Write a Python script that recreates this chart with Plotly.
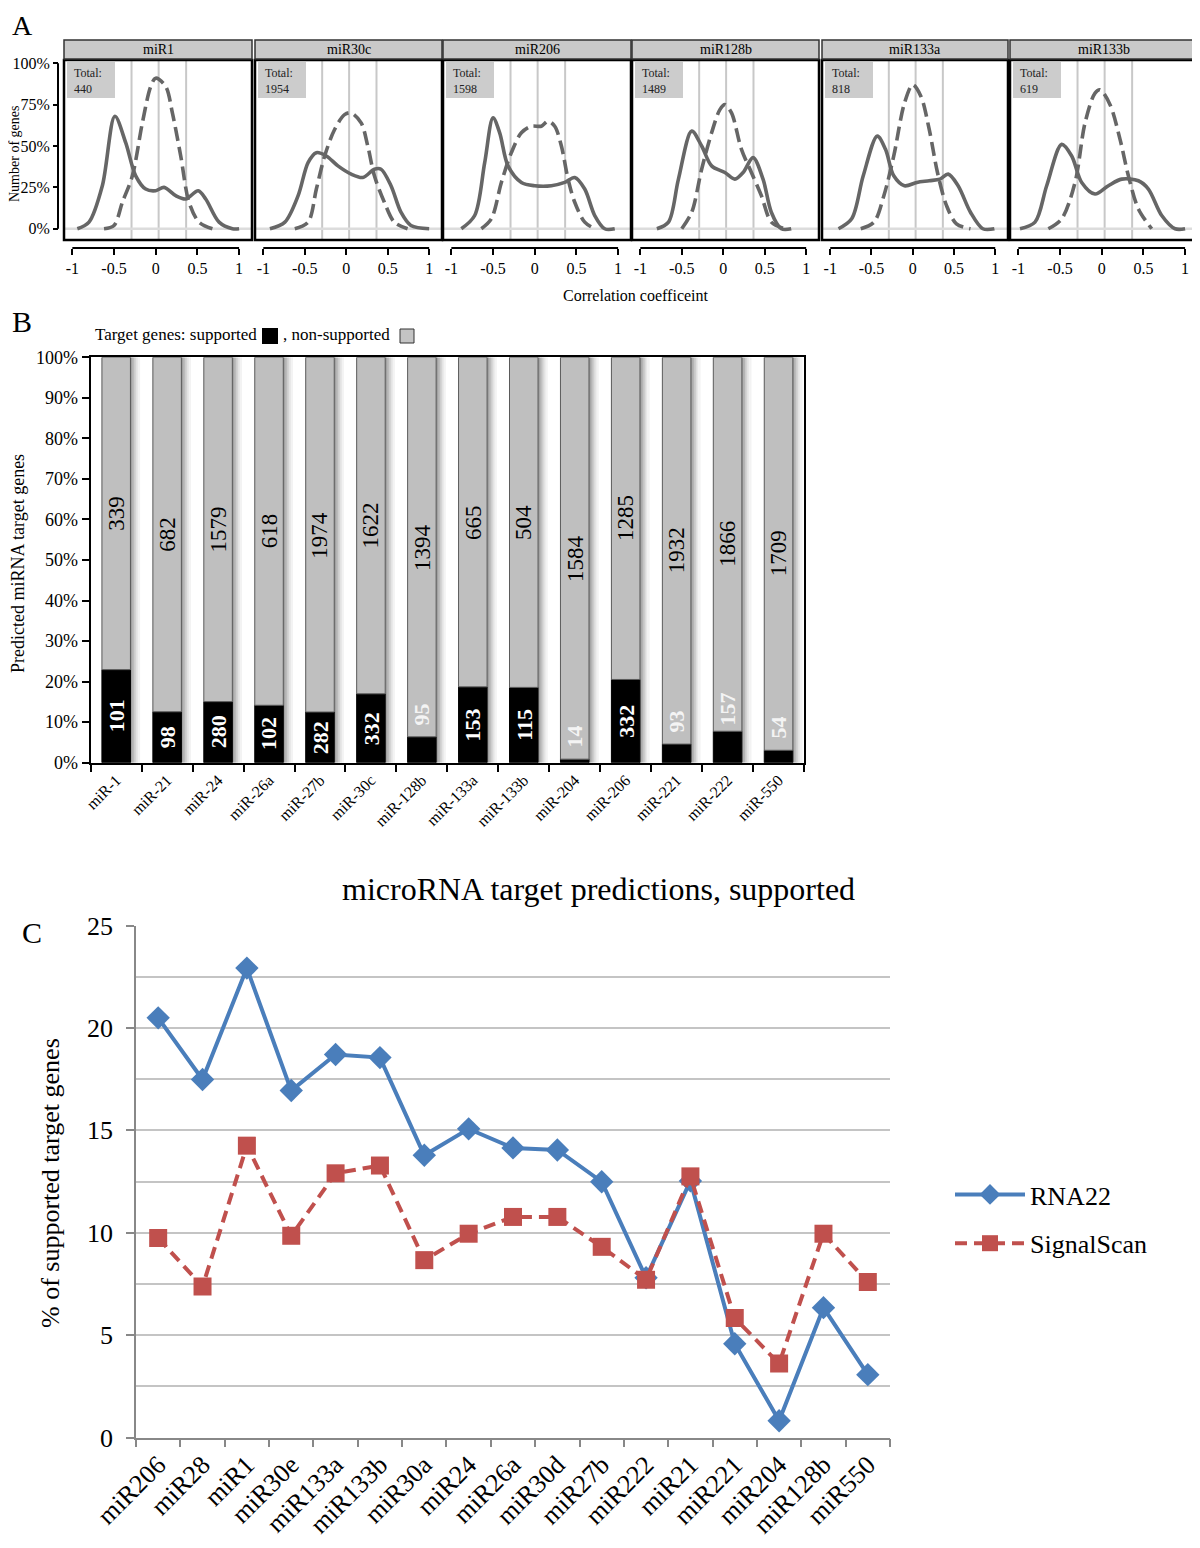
import plotly.graph_objects as go

# The page body adds an 8px margin, so the figure is drawn from (8, 8) on screen.
OFF = 8
W, H = 1200 - OFF, 1548 - OFF
FONT = "Liberation Serif"


def py(p):
    return 1 - (p - OFF) / H


def px(p):
    return (p - OFF) / W


# ---------------- Panel A data ----------------
A_names = ["miR1", "miR30c", "miR206", "miR128b", "miR133a", "miR133b"]
A_totals = [440, 1954, 1598, 1489, 818, 619]
A_xticks = [-1, -0.5, 0, 0.5, 1]
A_xticktext = ["-1", "-0.5", "0", "0.5", "1"]
A_yticks = [0, 25, 50, 75, 100]
A_yticktext = ["0%", "25%", "50%", "75%", "100%"]
A_grid_x = [-0.29, 0.035, 0.365]

miR1_solid_x = [-0.94, -0.8, -0.64, -0.49, -0.36, -0.24, -0.12, 0, 0.1, 0.24, 0.36, 0.51, 0.6, 0.76, 0.92, 1.0]
miR1_solid_y = [0, 4, 26, 68, 52, 32, 24, 23, 25, 20, 18, 23, 18, 4, 0, 0]
miR1_dash_x = [-0.62, -0.5, -0.4, -0.28, -0.16, -0.06, 0, 0.12, 0.2, 0.3, 0.4, 0.52, 0.68]
miR1_dash_y = [0, 2, 16, 32, 64, 86, 91, 86, 70, 44, 16, 4, 0]

miR30c_solid_x = [-0.92, -0.74, -0.58, -0.46, -0.36, -0.24, -0.1, 0.06, 0.2, 0.34, 0.42, 0.54, 0.66, 0.78, 1.0]
miR30c_solid_y = [0, 4, 20, 40, 46, 44, 38, 33, 31, 36, 36, 26, 10, 2, 0]
miR30c_dash_x = [-0.62, -0.46, -0.36, -0.26, -0.14, -0.02, 0.06, 0.18, 0.26, 0.34, 0.46, 0.58, 0.74]
miR30c_dash_y = [0, 4, 24, 44, 60, 69, 70, 64, 50, 32, 16, 4, 0]

miR206_solid_x = [-0.88, -0.72, -0.6, -0.5, -0.42, -0.32, -0.16, 0, 0.2, 0.36, 0.48, 0.6, 0.72, 0.84, 0.96]
miR206_solid_y = [0, 8, 40, 67, 58, 38, 28, 26, 26, 28, 31, 24, 8, 0, 0]
miR206_dash_x = [-0.64, -0.52, -0.4, -0.28, -0.16, -0.04, 0.08, 0.16, 0.24, 0.32, 0.4, 0.48, 0.6, 0.72]
miR206_dash_y = [0, 6, 28, 46, 58, 62, 62, 65, 62, 50, 30, 16, 4, 0]

miR128b_solid_x = [-0.8, -0.66, -0.54, -0.38, -0.26, -0.14, 0.02, 0.14, 0.24, 0.36, 0.48, 0.58, 0.7, 0.82]
miR128b_solid_y = [0, 4, 30, 59, 50, 38, 34, 30, 34, 43, 30, 10, 0, 0]
miR128b_dash_x = [-0.5, -0.38, -0.26, -0.14, -0.04, 0.02, 0.1, 0.22, 0.34, 0.46, 0.58, 0.74]
miR128b_dash_y = [0, 10, 36, 58, 72, 75, 70, 48, 34, 20, 4, 0]

miR133a_solid_x = [-0.9, -0.74, -0.6, -0.43, -0.33, -0.23, -0.1, 0.05, 0.2, 0.33, 0.43, 0.55, 0.7, 0.85, 0.99]
miR133a_solid_y = [0, 6, 32, 56, 48, 32, 26, 28, 29, 30, 33, 26, 10, 0, 0]
miR133a_dash_x = [-0.63, -0.47, -0.35, -0.23, -0.1, 0, 0.1, 0.2, 0.3, 0.41, 0.53, 0.7]
miR133a_dash_y = [0, 4, 20, 44, 76, 87, 80, 60, 34, 14, 3, 0]

miR133b_solid_x = [-0.98, -0.8, -0.66, -0.48, -0.36, -0.24, -0.08, 0.08, 0.24, 0.44, 0.56, 0.72, 0.88, 1.0]
miR133b_solid_y = [0, 4, 26, 51, 44, 28, 21, 26, 30, 29, 24, 8, 0, 0]
miR133b_dash_x = [-0.64, -0.48, -0.32, -0.2, -0.08, -0.02, 0.1, 0.22, 0.32, 0.44, 0.6]
miR133b_dash_y = [0, 6, 28, 64, 82, 84, 75, 54, 32, 12, 0]

A_solid = [(miR1_solid_x, miR1_solid_y), (miR30c_solid_x, miR30c_solid_y),
           (miR206_solid_x, miR206_solid_y), (miR128b_solid_x, miR128b_solid_y),
           (miR133a_solid_x, miR133a_solid_y), (miR133b_solid_x, miR133b_solid_y)]
A_dash = [(miR1_dash_x, miR1_dash_y), (miR30c_dash_x, miR30c_dash_y),
          (miR206_dash_x, miR206_dash_y), (miR128b_dash_x, miR128b_dash_y),
          (miR133a_dash_x, miR133a_dash_y), (miR133b_dash_x, miR133b_dash_y)]

# ---------------- Panel B data ----------------
B_names = ["miR-1", "miR-21", "miR-24", "miR-26a", "miR-27b", "miR-30c", "miR-128b",
           "miR-133a", "miR-133b", "miR-204", "miR-206", "miR-221", "miR-222", "miR-550"]
B_supported = [101, 98, 280, 102, 282, 332, 95, 153, 115, 14, 332, 93, 157, 54]
B_nonsupported = [339, 682, 1579, 618, 1974, 1622, 1394, 665, 504, 1584, 1285, 1932, 1866, 1709]
B_yticks = [0, 10, 20, 30, 40, 50, 60, 70, 80, 90, 100]

# ---------------- Panel C data ----------------
C_names = ["miR206", "miR28", "miR1", "miR30e", "miR133a", "miR133b", "miR30a", "miR24",
           "miR26a", "miR30d", "miR27b", "miR222", "miR21", "miR221", "miR204", "miR128b", "miR550"]
C_rna22 = [20.49, 17.48, 22.92, 16.94, 18.70, 18.55, 13.78, 15.07, 14.14, 14.04, 12.49,
           7.80, 12.53, 4.58, 0.82, 6.34, 3.07]
C_signalscan = [9.74, 7.37, 14.25, 9.85, 12.90, 13.28, 8.66, 9.95, 10.77, 10.77, 9.31,
                7.70, 12.75, 5.83, 3.61, 9.95, 7.59]
C_yticks = [0, 5, 10, 15, 20, 25]

# ---------------- figure ----------------
fig = go.Figure()
layout = dict(
    width=W, height=H, margin=dict(l=0, r=0, t=0, b=0, autoexpand=False),
    paper_bgcolor="white", plot_bgcolor="white",
    font=dict(family=FONT, color="black"),
    barmode="overlay", showlegend=True,
)
shapes = []
annotations = []


def label(text, x, y, size, angle=0, xanchor="center", color="black", align="center"):
    return dict(text=text, xref="paper", yref="paper", x=px(x), y=py(y), xanchor=xanchor,
                yanchor="middle", textangle=angle, showarrow=False, align=align,
                font=dict(size=size, family=FONT, color=color))


A_box_px = [(64, 252), (255, 442), (443, 631), (632, 819), (822, 1008), (1010, 1198)]
A_top, A_bot = 60, 240
A_strip_top = 40
A_axis_y = 248
A_color = "#666666"

for i in range(6):
    sfx = "" if i == 0 else str(i + 1)
    xa, ya = "x" + sfx, "y" + sfx
    x0p, x1p = A_box_px[i]
    sx, sy = A_solid[i]
    dx, dy = A_dash[i]
    fig.add_trace(go.Scatter(x=sx, y=sy, xaxis=xa, yaxis=ya, mode="lines",
                             line=dict(color=A_color, width=3.6, shape="spline", smoothing=0.9),
                             showlegend=False, hoverinfo="skip"))
    fig.add_trace(go.Scatter(x=dx, y=dy, xaxis=xa, yaxis=ya, mode="lines",
                             line=dict(color=A_color, width=3.6, shape="spline", smoothing=0.9,
                                       dash="14px,6px"),
                             showlegend=False, hoverinfo="skip"))
    layout["xaxis" + sfx] = dict(
        domain=[px(x0p), px(x1p)], range=[-1.1, 1.155], anchor="free", position=py(A_axis_y),
        showgrid=False, zeroline=False, showline=False, ticks="outside", ticklen=6,
        tickwidth=2, tickcolor="black", tickvals=A_xticks, ticktext=A_xticktext,
        automargin=False,
        tickfont=dict(size=16, family=FONT, color="black"), fixedrange=True)
    ydict = dict(domain=[py(A_bot), py(A_top)], range=[-6.8, 102], showgrid=False,
                 zeroline=False, showline=False, fixedrange=True, automargin=False)
    if i == 0:
        ydict.update(anchor="free", position=px(58), side="left", ticks="outside", ticklen=5,
                     tickwidth=2, tickcolor="black", tickvals=A_yticks, ticktext=A_yticktext,
                     tickfont=dict(size=16, family=FONT, color="black"))
    else:
        ydict.update(anchor=xa, visible=False)
    layout["yaxis" + sfx] = ydict

    for gx in A_grid_x:
        shapes.append(dict(type="line", xref=xa, yref=ya + " domain", x0=gx, x1=gx, y0=0, y1=1,
                           line=dict(color="#c8c8c8", width=2), layer="below"))
    shapes.append(dict(type="line", xref=xa + " domain", yref=ya, x0=0, x1=1, y0=0, y1=0,
                       line=dict(color="#dcdcdc", width=2.5), layer="below"))
    shapes.append(dict(type="rect", xref="paper", yref="paper", x0=px(x0p), x1=px(x1p),
                       y0=py(A_bot), y1=py(A_top), line=dict(color="black", width=2.5),
                       fillcolor="rgba(0,0,0,0)", layer="above"))
    shapes.append(dict(type="rect", xref="paper", yref="paper", x0=px(x0p), x1=px(x1p),
                       y0=py(A_top - 1), y1=py(A_strip_top), line=dict(color="#333333", width=1.5),
                       fillcolor="#c9c9c9", layer="above"))
    annotations.append(label(A_names[i], (x0p + x1p) / 2, (A_strip_top + A_top) / 2 - 0.5, 14))
    shapes.append(dict(type="rect", xref="paper", yref="paper", x0=px(x0p + 3), x1=px(x0p + 51),
                       y0=py(98), y1=py(62), line=dict(width=0), fillcolor="#cccccc", layer="above"))
    annotations.append(dict(text="Total:<br>%d" % A_totals[i], xref="paper", yref="paper",
                            x=px(x0p + 8), y=py(64), xanchor="left", yanchor="top", align="left",
                            showarrow=False, font=dict(size=12, family=FONT, color="#222222")))
    shapes.append(dict(type="line", xref=xa, yref="paper", x0=-1, x1=1, y0=py(A_axis_y),
                       y1=py(A_axis_y), line=dict(color="black", width=2)))

shapes.append(dict(type="line", xref="paper", yref="y", x0=px(58), x1=px(58), y0=0, y1=100,
                   line=dict(color="black", width=2)))

annotations += [
    label("A", 22, 25, 28),
    label("Correlation coefficeint", 636, 295, 16),
    label("Number of genes", 15, 154, 14, angle=-90),
]

# ---------------- Panel B ----------------
B_total = [s + n for s, n in zip(B_supported, B_nonsupported)]
B_sup_pct = [100.0 * s / t for s, t in zip(B_supported, B_total)]
B_non_pct = [100.0 - p for p in B_sup_pct]

shadow_colors = ["#9a9a9a", "#b4b4b4", "#cdcdcd", "#e3e3e3", "#f3f3f3"]
for k, c in enumerate(shadow_colors):
    fig.add_trace(go.Bar(x=B_names, y=[100] * len(B_names), base=0, offset=0.28 + k * 0.038,
                         width=0.038, marker=dict(color=c, line=dict(width=0)),
                         xaxis="x7", yaxis="y7", showlegend=False, hoverinfo="skip"))
fig.add_trace(go.Bar(x=B_names, y=B_sup_pct, base=0, offset=-0.28, width=0.56,
                     marker=dict(color="black", line=dict(color="black", width=1)),
                     xaxis="x7", yaxis="y7", showlegend=False, hoverinfo="skip"))
fig.add_trace(go.Bar(x=B_names, y=B_non_pct, base=B_sup_pct, offset=-0.28, width=0.56,
                     marker=dict(color="#bfbfbf", line=dict(color="#5a5a5a", width=1)),
                     xaxis="x7", yaxis="y7", showlegend=False, hoverinfo="skip"))

layout["xaxis7"] = dict(domain=[px(90.7), px(804)], anchor="y7", type="category",
                        range=[-0.5, len(B_names) - 0.5], tickson="boundaries", ticks="outside",
                        ticklen=7, tickwidth=1.5, tickcolor="black", showline=True, linewidth=2,
                        linecolor="black", mirror=True, tickangle=-45, showgrid=False,
                        automargin=False,
                        tickfont=dict(size=16, family=FONT, color="black"), fixedrange=True)
layout["yaxis7"] = dict(domain=[py(762.7), py(357.3)], anchor="x7", range=[0, 100],
                        tickvals=B_yticks, ticktext=["%d%%" % v for v in B_yticks],
                        ticks="outside", ticklen=7, tickwidth=1.5, tickcolor="black",
                        showline=True, linewidth=2, linecolor="black", mirror=True,
                        showgrid=False, zeroline=False, automargin=False,
                        tickfont=dict(size=18, family=FONT, color="black"), fixedrange=True)

for name, s, sp, n in zip(B_names, B_supported, B_sup_pct, B_nonsupported):
    annotations.append(dict(text=str(n), xref="x7", yref="y7", x=name, y=sp + (100 - sp) / 2,
                            xanchor="center", yanchor="middle", textangle=-90, showarrow=False,
                            font=dict(size=23, family=FONT, color="black")))
    if sp >= 10:
        annotations.append(dict(text="<b>%d</b>" % s, xref="x7", yref="y7", x=name, y=sp / 2,
                                xanchor="center", yanchor="middle", textangle=-90,
                                showarrow=False, font=dict(size=22, family=FONT, color="white")))
    else:
        annotations.append(dict(text="<b>%d</b>" % s, xref="x7", yref="y7", x=name, y=sp + 5.5,
                                xanchor="center", yanchor="middle", textangle=-90,
                                showarrow=False, font=dict(size=22, family=FONT, color="#f4f4f4")))

annotations += [
    label("B", 22, 321, 30),
    label("Target genes: supported", 259, 335, 17, xanchor="right"),
    label(", non-supported", 281, 335, 17, xanchor="left"),
    label("Predicted miRNA target genes", 18, 564, 18, angle=-90),
]
shapes.append(dict(type="rect", xref="paper", yref="paper", x0=px(262), x1=px(278),
                   y0=py(344), y1=py(328), fillcolor="black", line=dict(width=0)))
shapes.append(dict(type="rect", xref="paper", yref="paper", x0=px(400), x1=px(414),
                   y0=py(343), y1=py(329), fillcolor="#c4c4c4", line=dict(color="#333", width=1)))

# ---------------- Panel C ----------------
fig.add_trace(go.Scatter(x=C_names, y=C_rna22, name="RNA22", mode="lines+markers",
                         line=dict(color="#4A7EBB", width=4),
                         marker=dict(symbol="diamond", size=18, color="#4A7EBB"),
                         xaxis="x8", yaxis="y8", legendgroup="a", hoverinfo="skip"))
fig.add_trace(go.Scatter(x=C_names, y=C_signalscan, name="SignalScan", mode="lines+markers",
                         line=dict(color="#C0504D", width=4, dash="12px,7px"),
                         marker=dict(symbol="square", size=18, color="#C0504D"),
                         xaxis="x8", yaxis="y8", legendgroup="b", hoverinfo="skip"))

layout["xaxis8"] = dict(domain=[px(136), px(890)], anchor="y8", type="category",
                        range=[-0.5, len(C_names) - 0.5], tickson="boundaries", ticks="outside",
                        ticklen=8, tickwidth=1.5, tickcolor="#888888", showline=True,
                        linewidth=1.5, linecolor="#888888", tickangle=-45, showgrid=False,
                        automargin=False,
                        tickfont=dict(size=26, family=FONT, color="black"), fixedrange=True)
layout["yaxis8"] = dict(domain=[py(1437.5), py(925.5)], anchor="x8", range=[0, 25],
                        tickvals=C_yticks, ticks="outside", ticklen=8, tickwidth=1.5,
                        tickcolor="#888888", showline=True, linewidth=1.5, linecolor="#888888",
                        showgrid=True, gridcolor="#c4c4c4", gridwidth=1.5, zeroline=False,
                        minor=dict(dtick=2.5, tick0=0, showgrid=True, gridcolor="#c4c4c4",
                                   gridwidth=1.5, ticks=""),
                        ticklabelstandoff=8, automargin=False,
                        tickfont=dict(size=26, family=FONT, color="black"), fixedrange=True)

layout["legend"] = dict(x=px(950), y=py(1171), xanchor="left", yanchor="top",
                        bgcolor="rgba(0,0,0,0)", traceorder="grouped", tracegroupgap=12,
                        itemwidth=70,
                        font=dict(size=26, family=FONT, color="black"))

annotations += [
    label("C", 32, 932, 30),
    label("microRNA target predictions, supported", 598, 889, 32),
    label("% of supported target genes", 50, 1183, 26, angle=-90),
]

layout["shapes"] = shapes
layout["annotations"] = annotations
fig.update_layout(**layout)
fig.write_html("out.html")
